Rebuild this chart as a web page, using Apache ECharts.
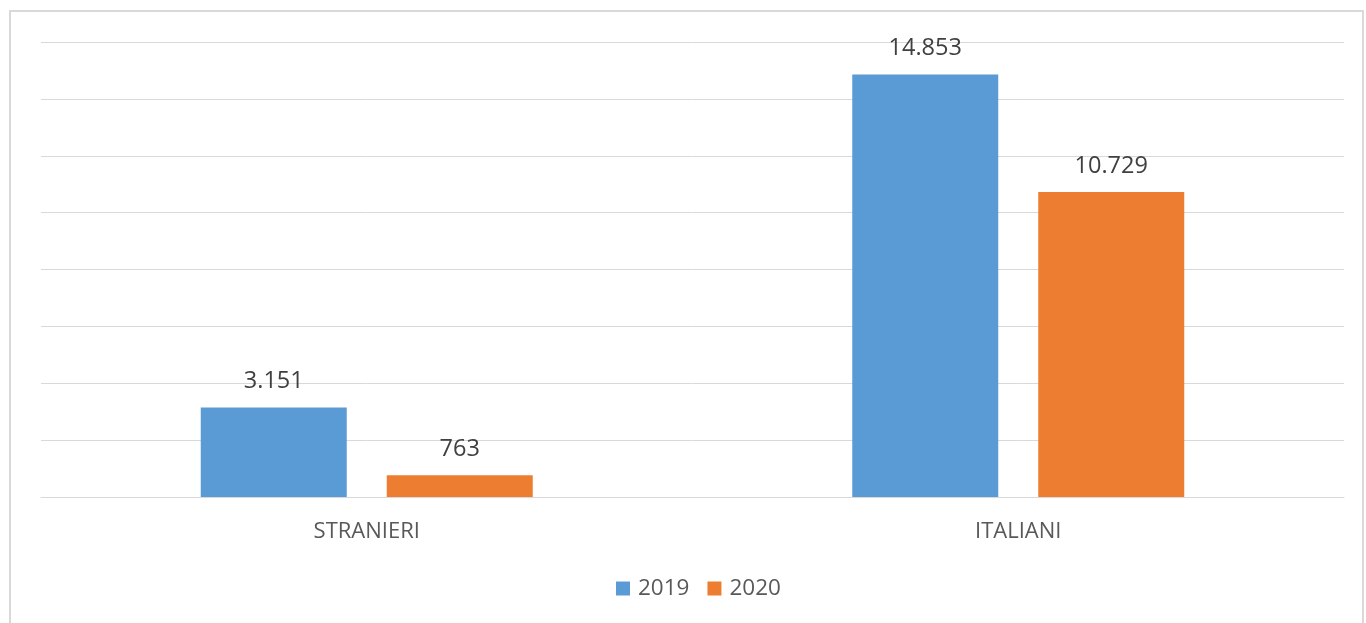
<!DOCTYPE html>
<html>
<head>
<meta charset="utf-8">
<script src="https://cdn.jsdelivr.net/npm/echarts@6/dist/echarts.min.js"></script>
<style>
html,body{margin:0;padding:0;background:#fff;}
#frame{position:absolute;left:9px;top:10px;width:1355px;height:640px;border:2px solid #d9d9d9;box-sizing:border-box;}
#chart{position:absolute;left:0;top:0;width:1366px;height:623px;}
</style>
</head>
<body>
<div id="frame"></div>
<div id="chart"></div>
<script>
const categories = ['STRANIERI', 'ITALIANI'];
const seriesNames = ['2019', '2020'];
const values2019 = [3151, 14853];
const values2020 = [763, 10729];

const fmt = v => v.toLocaleString('it-IT');
const font = '"Open Sans", sans-serif';

const chart = echarts.init(document.getElementById('chart'));
chart.setOption({
  animation: false,
  backgroundColor: 'transparent',
  grid: { left: 41, right: 22, top: 42, bottom: 126, containLabel: false },
  legend: {
    data: seriesNames,
    bottom: 18,
    left: 611,
    itemWidth: 14, itemHeight: 14, itemGap: 18,
    icon: 'rect',
    textStyle: { color: '#595959', fontSize: 22.5, fontFamily: font, padding: [0, 0, 0, 3] }
  },
  xAxis: {
    type: 'category',
    data: categories,
    axisLine: { lineStyle: { color: '#d9d9d9', width: 1 } },
    axisTick: { show: false },
    axisLabel: { color: '#595959', fontSize: 22, fontFamily: font, margin: 24 }
  },
  yAxis: {
    type: 'value',
    min: 0, max: 16000, interval: 2000,
    axisLabel: { show: false },
    axisLine: { show: false },
    axisTick: { show: false },
    splitLine: { lineStyle: { color: '#d9d9d9', width: 1 } }
  },
  series: [
    {
      name: '2019', type: 'bar', data: values2019,
      barWidth: 146, barGap: '27.4%',
      itemStyle: { color: '#5B9BD5' },
      label: { show: true, position: 'top', distance: 14, color: '#404040', fontSize: 23.5, fontFamily: font, formatter: p => fmt(p.value) }
    },
    {
      name: '2020', type: 'bar', data: values2020,
      barWidth: 146, barGap: '27.4%',
      itemStyle: { color: '#ED7D31' },
      label: { show: true, position: 'top', distance: 14, color: '#404040', fontSize: 23.5, fontFamily: font, formatter: p => fmt(p.value) }
    }
  ]
});
</script>
</body>
</html>
